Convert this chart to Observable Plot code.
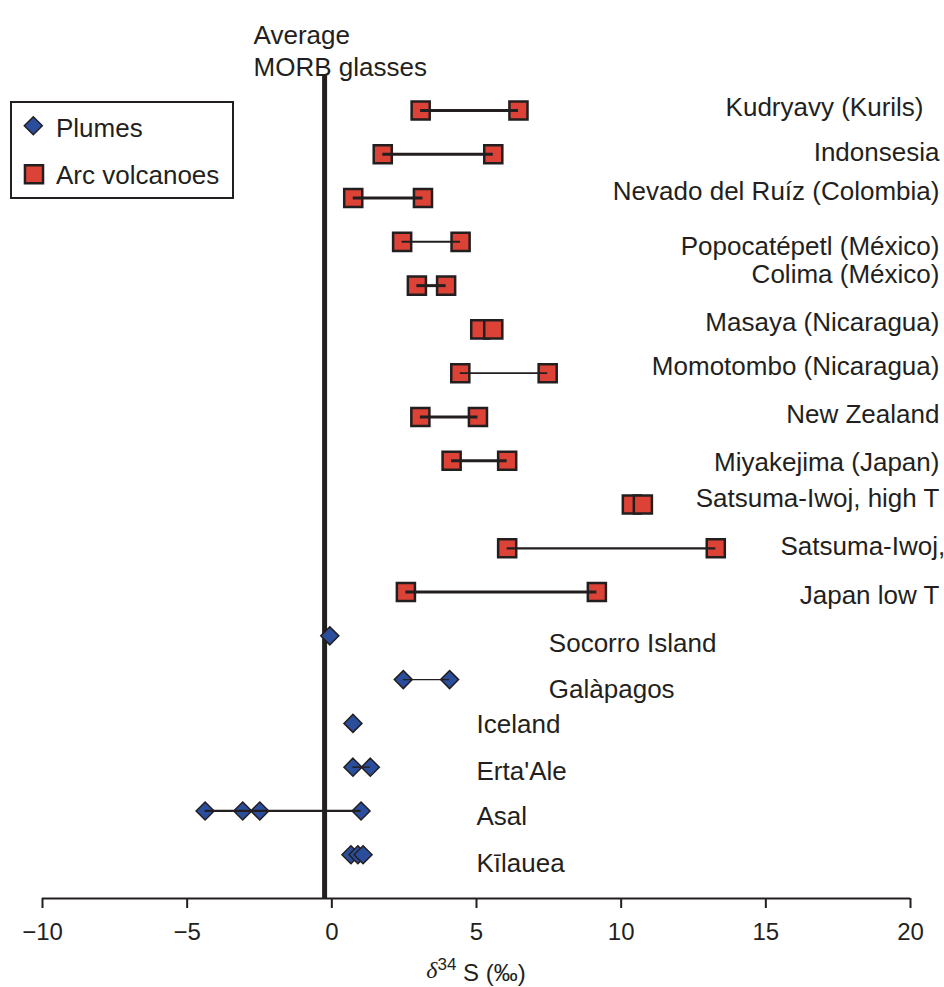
<!DOCTYPE html>
<html>
<head>
<meta charset="utf-8">
<script src="https://cdn.jsdelivr.net/npm/d3@7"></script>
<script src="https://cdn.jsdelivr.net/npm/@observablehq/plot@0.6"></script>
<style>
  body { margin: 0; background: #fff; }
  #wrap { position: relative; width: 944px; height: 987px; font-family: "Liberation Sans", Arial, Helvetica, sans-serif; color: #231f20; }
  #legend { position: absolute; left: 10px; top: 101px; }
  #chart svg { display: block; }
</style>
</head>
<body>
<div id="wrap">
  <div id="chart"></div>
  <svg id="legend" width="224" height="98"></svg>
</div>
<script>
// ---------- data ----------
const xTicks = [-10, -5, 0, 5, 10, 15, 20];
const morbAverage = -0.25;
const morbLabel = "Average\nMORB glasses";

const arcSites = ["Kudryavy", "Indonesia", "Nevado del Ruíz", "Popocatépetl", "Colima", "Masaya",
  "Momotombo", "New Zealand", "Miyakejima", "Satsuma-Iwoj high T", "Satsuma-Iwoj low T", "Japan low T"];
const arcValues = [
  [3.07, 6.45], [1.76, 5.58], [0.74, 3.15], [2.43, 4.45], [2.94, 3.95], [5.13, 5.58],
  [4.44, 7.46], [3.06, 5.05], [4.14, 6.06], [10.37, 10.75], [6.06, 13.27], [2.56, 9.16]
];
const plumeSites = ["Socorro Island", "Galàpagos", "Iceland", "Erta'Ale", "Asal", "Kīlauea"];
const plumeValues = [
  [-0.07], [2.47, 4.07], [0.73], [0.73, 1.33], [-4.38, -3.08, -2.49, 1.01], [0.66, 0.9, 1.08]
];

const labelTexts = ["Kudryavy (Kurils)", "Indonsesia", "Nevado del Ruíz (Colombia)", "Popocatépetl (México)",
  "Colima (México)", "Masaya (Nicaragua)", "Momotombo (Nicaragua)", "New Zealand", "Miyakejima (Japan)",
  "Satsuma-Iwoj, high T", "Satsuma-Iwoj,", "Japan low T",
  "Socorro Island", "Galàpagos", "Iceland", "Erta'Ale", "Asal", "Kīlauea"];
const labelRows = [-0.06, 0.97, 1.85, 3.11, 3.76, 4.84, 5.85, 6.95, 8.04, 8.87, 9.96, 11.08,
  12.17, 13.22, 14.04, 15.11, 16.13, 17.21];
const labelX = [20.45, 21.0, 21.0, 21.0, 21.0, 21.0, 21.0, 21.0, 21.0, 21.0, 21.2, 21.0,
  7.5, 7.5, 5, 5, 5, 5];

// ---------- styling ----------
const ink = "#231f20";
const red = "#dd4236";
const blue = "#2b4e9c";
const font = "'Liberation Sans', Arial, Helvetica, sans-serif";
const linkWeight = { "Popocatépetl": 2, "Momotombo": 1.8, "Satsuma-Iwoj low T": 2.2, "Galàpagos": 1.2, "Erta'Ale": 1.5 };

// ---------- build tables ----------
const points = [];
arcSites.forEach((s, i) => arcValues[i].forEach(v => points.push({ site: s, row: i, x: v, group: "arc" })));
plumeSites.forEach((s, j) => plumeValues[j].forEach(v => points.push({ site: s, row: arcSites.length + j, x: v, group: "plume" })));

const links = d3.groups(points, d => d.row).map(([row, pts]) => {
  const [lo, hi] = d3.extent(pts, d => d.x);
  return { row, lo, hi, site: pts[0].site, group: pts[0].group };
}).filter(d => d.hi - d.lo > 0.5);

const labels = labelTexts.map((t, i) => ({ text: t, row: labelRows[i], x: labelX[i], group: i < arcSites.length ? "arc" : "plume" }));

const W = 944, H = 987, mL = 42, mR = 34, mT = 75, mB = 89;

const chart = Plot.plot({
  width: W, height: H,
  marginTop: mT, marginBottom: mB, marginLeft: mL, marginRight: mR,
  style: { fontFamily: font, fontSize: "26px", color: ink, background: "white", overflow: "visible" },
  x: { domain: [-10, 20], label: null },
  y: { domain: [18, -0.8], axis: null },
  marks: [
    Plot.ruleY([18], { stroke: ink, strokeWidth: 2 }),
    Plot.axisX({ ticks: xTicks, tickSize: 10, tickPadding: 14, fontSize: 24, stroke: ink, strokeWidth: 2, fill: ink, label: null }),
    Plot.ruleX([morbAverage], { stroke: ink, strokeWidth: 5 }),
    Plot.text([{ x: morbAverage, t: morbLabel }], { x: "x", text: "t", frameAnchor: "top", textAnchor: "start", lineAnchor: "bottom", dx: -71, lineHeight: 1.23, fontSize: 26, fill: ink }),
    Plot.dot(points.filter(d => d.group === "arc"), { x: "x", y: "row", symbol: "square", r: 10.2, fill: red, stroke: ink, strokeWidth: 2.5 }),
    Plot.dot(points.filter(d => d.group === "plume"), { x: "x", y: "row", symbol: "diamond2", r: 8.1, fill: blue, stroke: ink, strokeWidth: 1.5 }),
    Plot.ruleY(links, { y: "row", x1: "lo", x2: "hi", stroke: ink, strokeWidth: d => linkWeight[d.site] ?? (d.group === "arc" ? 3 : 2.2) }),
    Plot.text(labels.filter(d => d.group === "arc"), { x: "x", y: "row", text: "text", textAnchor: "end", fontSize: 26, fill: ink }),
    Plot.text(labels.filter(d => d.group === "plume"), { x: "x", y: "row", text: "text", textAnchor: "start", fontSize: 26, fill: ink })
  ]
});

// axis title with italic delta and superscript
const svg = d3.select(chart);
const title = svg.append("text")
  .attr("x", (mL + W - mR) / 2)
  .attr("y", H - 9)
  .attr("text-anchor", "middle")
  .attr("fill", ink)
  .style("font-family", font)
  .style("font-size", "24px");
title.append("tspan").text("δ").style("font-style", "italic").style("font-family", "'Liberation Serif', 'DejaVu Serif', serif");
title.append("tspan").text("34").attr("dy", "-0.45em").style("font-size", "17px");
title.append("tspan").text(" S (‰)").attr("dy", "0.45em");

document.getElementById("chart").appendChild(chart);

// legend (inside the plot area, top-left)
const lg = d3.select("#legend");
lg.append("rect").attr("x", 1).attr("y", 1).attr("width", 222).attr("height", 96)
  .attr("fill", "white").attr("stroke", ink).attr("stroke-width", 2);
const lgItems = [
  { label: "Plumes", kind: "diamond", cy: 24.7, base: 35.7 },
  { label: "Arc volcanoes", kind: "square", cy: 73.3, base: 83.3 }
];
lgItems.forEach(it => {
  if (it.kind === "diamond") {
    lg.append("path").attr("d", d3.symbol(d3.symbolDiamond2, Math.PI * 8.1 * 8.1)())
      .attr("transform", `translate(23.3,${it.cy})`).attr("fill", blue).attr("stroke", ink).attr("stroke-width", 1.5);
  } else {
    lg.append("path").attr("d", d3.symbol(d3.symbolSquare, Math.PI * 10.2 * 10.2)())
      .attr("transform", `translate(24,${it.cy})`).attr("fill", red).attr("stroke", ink).attr("stroke-width", 2.5);
  }
  lg.append("text").attr("x", 46).attr("y", it.base).text(it.label)
    .attr("fill", ink).style("font-family", font).style("font-size", "26px");
});
</script>
</body>
</html>
